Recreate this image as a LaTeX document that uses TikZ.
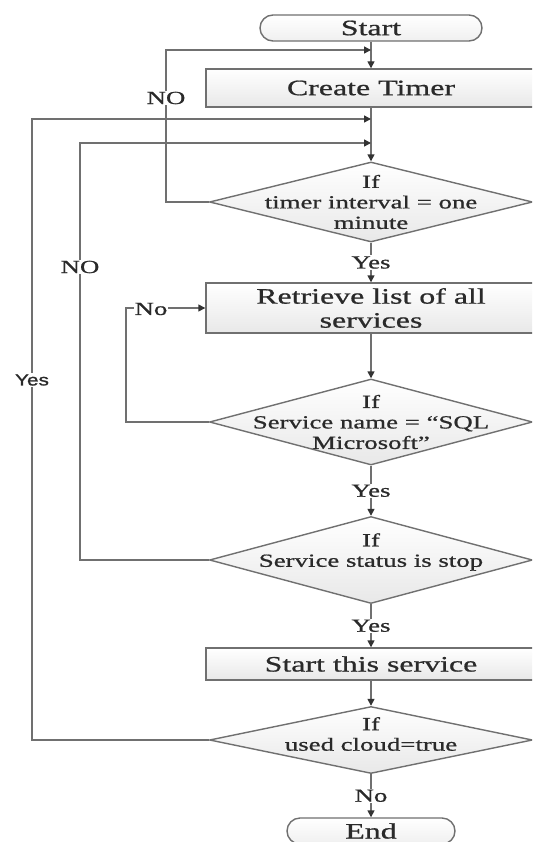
\documentclass[tikz,border=0pt]{standalone}
\usepackage{fontspec}
\setmainfont[FakeStretch=1.45,FakeBold=0.8]{Liberation Serif}
\setsansfont[FakeStretch=1.3,FakeBold=1.2]{Liberation Sans}
\usetikzlibrary{shapes.geometric,arrows.meta}
\definecolor{linegray}{HTML}{707070}
\definecolor{tipgray}{HTML}{333333}
\definecolor{txtgray}{HTML}{2A2A2A}
\newcommand\fbig{\fontsize{22}{24}\selectfont}
\newcommand\fmid{\fontsize{18.5}{20.5}\selectfont}
\tikzset{
  ln/.style={draw=linegray, line width=1.4pt},
  arr/.style={ln, -{Triangle[length=7pt,width=7pt,color=tipgray]}},
  term/.style={rectangle, rounded corners=13pt, draw=linegray, line width=1.4pt,
    top color=white, bottom color=gray!12, minimum width=222pt, minimum height=26pt,
    inner sep=0pt, text=txtgray, font=\fbig},
  procbox/.style={rectangle, draw=linegray, line width=1.4pt,
    top color=white, bottom color=gray!18, minimum width=330pt,
    inner sep=0pt, text=txtgray, font=\fbig, align=center},
  dec/.style={diamond, draw=linegray, line width=1.4pt,
    top color=white, bottom color=gray!18, minimum width=323pt,
    inner sep=0pt},
  dtext/.style={text=txtgray, font=\fmid, align=center, inner sep=0pt},
  lbl/.style={fill=white, text=txtgray, font=\fmid, inner sep=1pt},
}
\begin{document}
\begin{tikzpicture}[x=1pt,y=-1pt]
\useasboundingbox (0,0) rectangle (532,842);
\clip (0,0) rectangle (532,842);
\fill[white] (0,0) rectangle (532,842);
% nodes
\node[term] (start) at (371,28) {Start};
\node[procbox, minimum height=38pt] (timer) at (371,88) {Create Timer};
\node[dec, minimum height=80pt] (d1) at (371,202) {};
\node[dtext] (d1t) at (371,202) {If\\timer interval = one\\minute};
\node[procbox, minimum height=50pt] (retr) at (371,308) {Retrieve list of all\\services};
\node[dec, minimum height=86pt] (d2) at (371,422) {};
\node[dtext] (d2t) at (371,422) {If\\Service name = “SQL\\Microsoft”};
\node[dec, minimum height=87pt] (d3) at (371,560) {};
\node[dtext] (d3t) at (371,552) {If\\Service status is stop};
\node[procbox, minimum height=32pt] (serv) at (371,664) {Start this service};
\node[dec, minimum height=67pt] (d4) at (371,740) {};
\node[dtext] (d4t) at (371,734) {If\\used cloud=true};
\node[term, minimum width=168pt] (end) at (371,831) {End};
% merge points
\coordinate (m1) at (371,50);
\coordinate (m2) at (371,119);
\coordinate (m3) at (371,143);
% main flow
\draw[arr] (start) -- (timer);
\draw[arr] (timer) -- (d1);
\draw[arr] (d1) -- (retr) node[lbl, pos=0.5] (ly1) {Yes};
\draw[arr] (retr) -- (d2);
\draw[arr] (d2) -- (d3) node[lbl, pos=0.5] (ly2) {Yes};
\draw[arr] (d3) -- (serv) node[lbl, pos=0.5] (ly3) {Yes};
\draw[arr] (serv) -- (d4);
\draw[arr] (d4) -- (end) node[lbl, pos=0.5] (ln4) {No};
% loops
\draw[arr] (d1.west) -- (166,202) |- (m1);
\node[lbl] (lno1) at (166,98) {NO};
\draw[arr] (d4.west) -- (32,740) |- (m2);
\node[lbl, font=\sffamily\fontsize{16}{18}\selectfont] (lyes) at (32,380) {Yes};
\draw[arr] (d3.west) -- (80,560) |- (m3);
\node[lbl] (lno2) at (80,267) {NO};
\draw[arr] (d2.west) -- (126,422) |- (retr.west);
\node[lbl] (lno3) at (151,309) {No};
\end{tikzpicture}
\end{document}
